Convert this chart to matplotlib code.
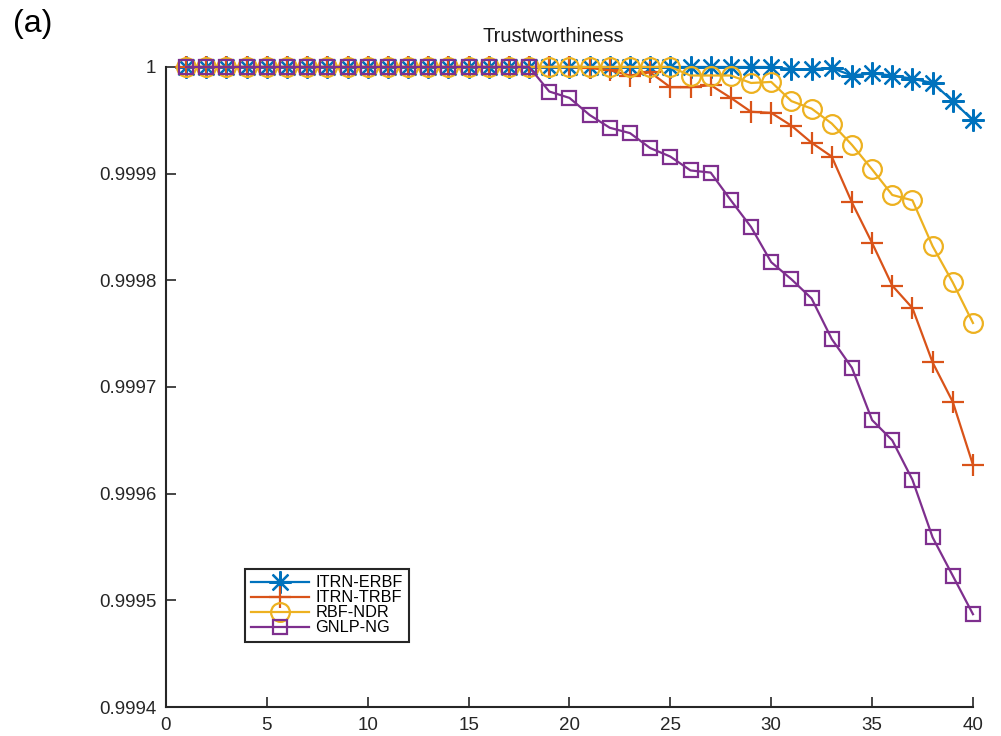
import numpy as np
import matplotlib
matplotlib.use('Agg')
from matplotlib import pyplot as plt

plt.rcParams['font.family'] = ['Liberation Sans', 'DejaVu Sans']

x = list(range(1, 41))

# ITRN-ERBF
erbf = [1.0] * 29 + [1.0, 0.999998, 0.999998, 0.999999, 0.999992, 0.999994,
                     0.999992, 0.999989, 0.999985, 0.999968, 0.99995]
# ITRN-TRBF
trbf = [1.0] * 20 + [0.999999, 0.999997, 0.999992, 0.999995, 0.999981, 0.999981,
                     0.999983, 0.999971, 0.999958, 0.999957, 0.999945, 0.999929,
                     0.999916, 0.999873, 0.999835, 0.999795, 0.999774, 0.999723,
                     0.999686, 0.999627]
# RBF-NDR
ndr = [1.0] * 25 + [0.999992, 0.999992, 0.999992, 0.999985, 0.999986, 0.999968,
                    0.999961, 0.999947, 0.999927, 0.999904, 0.99988, 0.999875,
                    0.999832, 0.999798, 0.99976]
# GNLP-NG
ng = [1.0] * 18 + [0.999977, 0.999971, 0.999955, 0.999943, 0.999938, 0.999924,
                   0.999916, 0.999903, 0.999901, 0.999875, 0.99985, 0.999817,
                   0.999801, 0.999783, 0.999745, 0.999718, 0.999669, 0.99965,
                   0.999613, 0.999559, 0.999523, 0.999487]

labels = ['ITRN-ERBF', 'ITRN-TRBF', 'RBF-NDR', 'GNLP-NG']
colors = ['#0072BD', '#D95319', '#EDB120', '#7E2F8E']
markers = [(8, 2, 0), '+', 'o', 's']
msizes = [16, 16, 13.5, 10.5]

fig = plt.figure(figsize=(10.01, 7.36), dpi=100)
ax = fig.add_axes([0.1658, 0.0394, 0.8062, 0.8696])

for ys, lab, c, m, ms in zip([erbf, trbf, ndr, ng], labels, colors, markers, msizes):
    ax.plot(x, ys, color=c, marker=m, markersize=ms, markerfacecolor='none',
            markeredgewidth=1.6, linewidth=1.6, label=lab, clip_on=False)

ax.set_xlim(0, 40)
ax.set_ylim(0.9994, 1.0)
ax.set_xticks(range(0, 41, 5))
yt = np.round(np.arange(0.9994, 1.00001, 0.0001), 4)
ax.set_yticks(yt)
ax.set_yticklabels(['%g' % v for v in yt])
ax.tick_params(direction='in', length=7, width=1.2, labelsize=13.5, colors='#262626', pad=7)
ax.spines['top'].set_visible(False)
ax.spines['right'].set_visible(False)
for s in ['left', 'bottom']:
    ax.spines[s].set_linewidth(1.5)
    ax.spines[s].set_color('#262626')

ax.text(0.48, 1.039, 'Trustworthiness', transform=ax.transAxes, fontsize=14.5,
        color='#1a1a1a', ha='center', va='baseline')
fig.text(0.013, 0.9565, '(a)', fontsize=23, va='baseline')

leg = ax.legend(loc='lower left', bbox_to_anchor=(0.0979, 0.1016), fontsize=11.7,
                handlelength=3.56, labelspacing=0.0, borderpad=0.4,
                borderaxespad=0, handletextpad=0.37, fancybox=False, framealpha=1)
leg.get_frame().set_edgecolor('#262626')
leg.get_frame().set_linewidth(1.5)

fig.savefig('out.png', dpi=100)
